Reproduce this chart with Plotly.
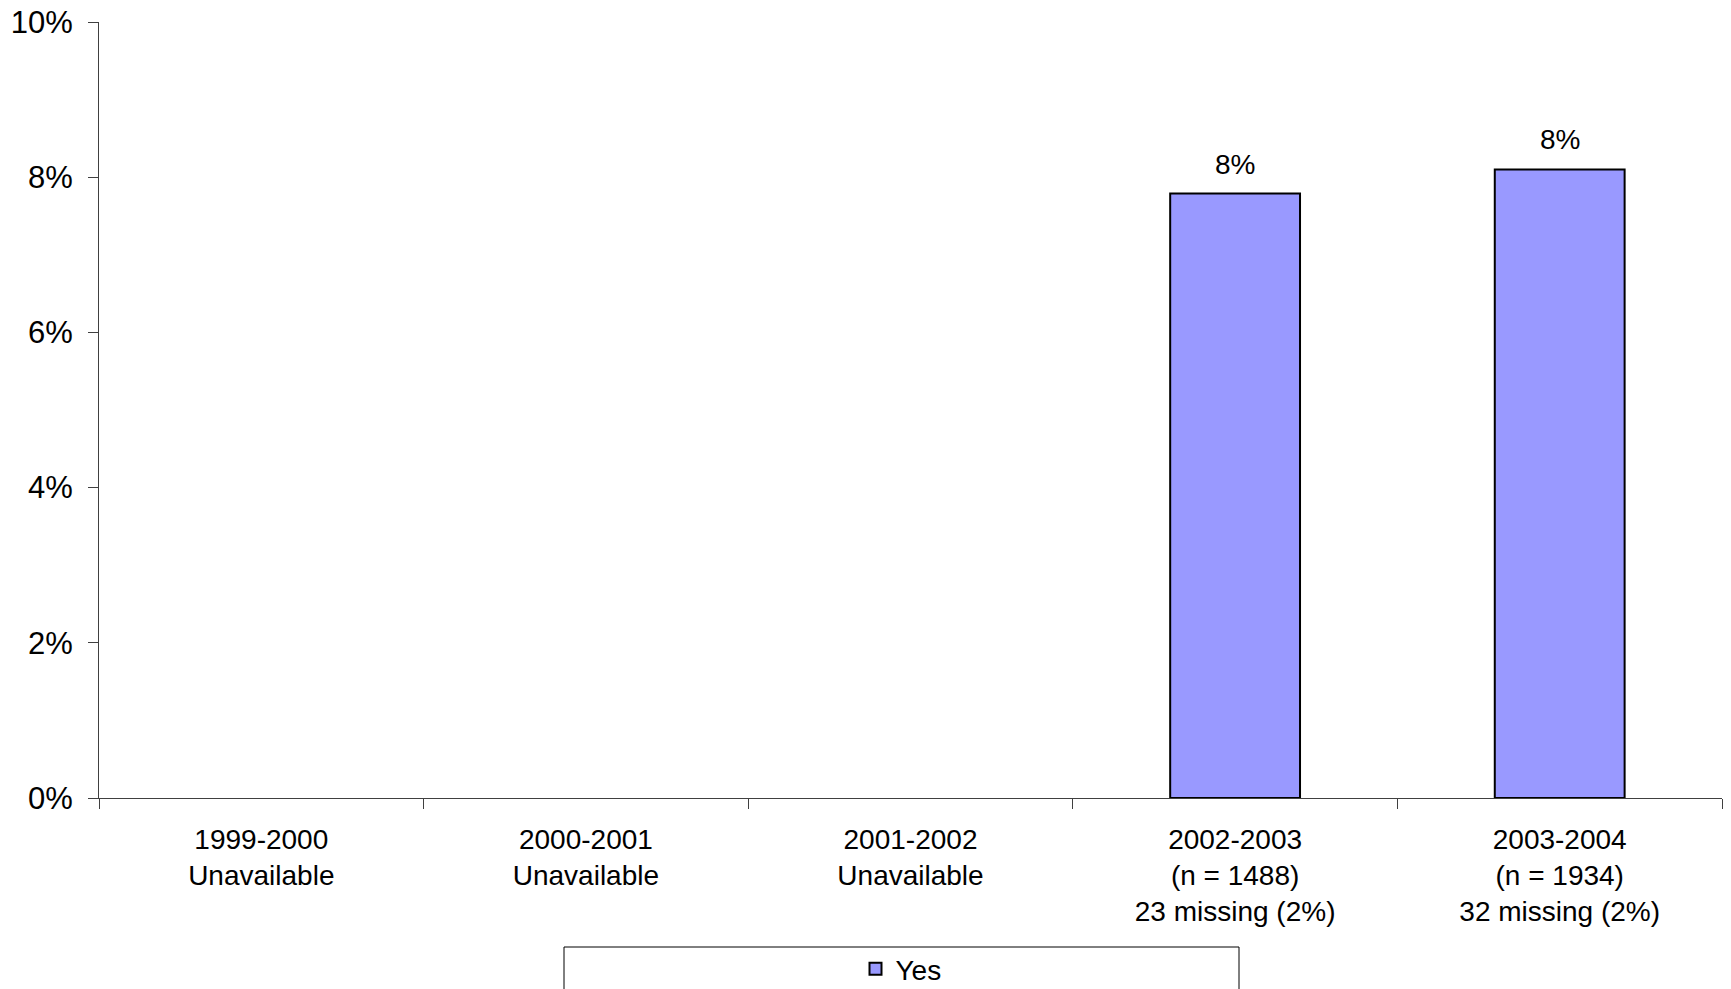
import plotly.graph_objects as go

years = ["1999-2000", "2000-2001", "2001-2002", "2002-2003", "2003-2004"]
notes = ["Unavailable", "Unavailable", "Unavailable",
         "(n = 1488)<br>23 missing (2%)", "(n = 1934)<br>32 missing (2%)"]
yes_pct = [None, None, None, 7.79, 8.10]
bar_labels = ["", "", "", "8%", "8%"]

cats = [y + "<br>" + n for y, n in zip(years, notes)]
font = dict(family="Liberation Sans, Arial, sans-serif", size=28, color="black")

fig = go.Figure()
fig.add_trace(go.Bar(
    x=cats, y=yes_pct, name="Yes", width=0.4,
    marker=dict(color="#9999FF", line=dict(color="black", width=2)),
))

# value labels above the bars
for c, v, t in zip(cats, yes_pct, bar_labels):
    if v is None:
        continue
    fig.add_annotation(x=c, y=v, text=t, showarrow=False, yanchor="bottom",
                       yshift=12, font=font)

# legend frame (Excel style, wider than its content)
fig.add_shape(type="rect", xref="paper", yref="paper",
              x0=(564 - 99) / 1623, x1=(1239 - 99) / 1623,
              y0=-(947 - 798) / 776, y1=-(1010 - 798) / 776,
              line=dict(color="black", width=1), fillcolor="rgba(0,0,0,0)")

fig.update_layout(
    width=1731, height=989,
    margin=dict(l=99, r=9, t=22, b=191, autoexpand=False),
    plot_bgcolor="white", paper_bgcolor="white",
    font=font,
    showlegend=True,
    legend=dict(orientation="h", x=(901 - 99) / 1623, xanchor="center",
                y=-(969 - 798) / 776, yanchor="middle",
                font=font, bgcolor="rgba(0,0,0,0)"),
    bargap=0.6,
)
fig.update_yaxes(range=[0, 10], dtick=2, ticksuffix="%", showgrid=False,
                 showline=True, linecolor="#404040", linewidth=1,
                 ticks="outside", ticklen=10, tickcolor="#404040",
                 tickfont=dict(size=31), ticklabelstandoff=9, zeroline=False)
fig.update_xaxes(showgrid=False, showline=True, linecolor="#404040", linewidth=1,
                 ticks="outside", ticklen=10, tickcolor="#404040",
                 tickson="boundaries", ticklabelstandoff=16)

# drop the default body margin so the figure sits at the window corner
fig.write_html("out.html", config={"displayModeBar": False},
               post_script="document.body.style.margin='0';")
